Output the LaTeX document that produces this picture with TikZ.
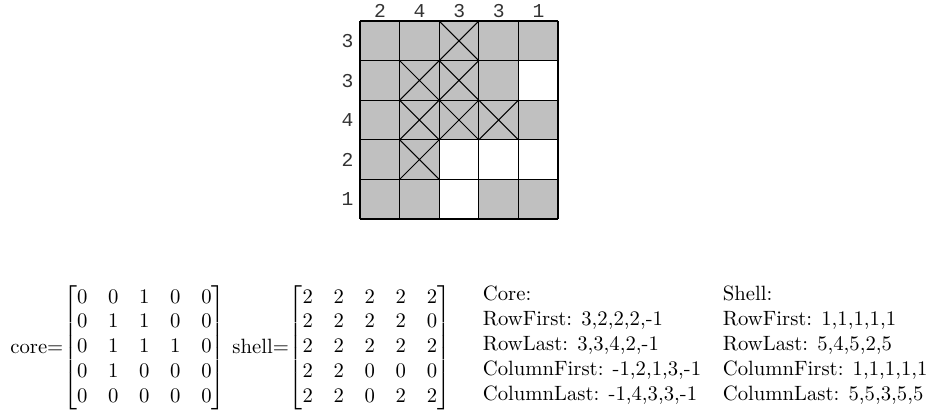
\documentclass[tikz,border=0pt]{standalone}
\usepackage{amsmath}
\usepackage{fontspec}
\newfontfamily\labfont{Liberation Mono}
\definecolor{cellgray}{HTML}{C0C0C0}
\begin{document}
\begin{tikzpicture}[x=0.4833pt,y=-0.4833pt,
  gridline/.style={draw=black,line width=0.55pt},
  xmark/.style={draw=black,line width=0.5pt},
  lab/.style={font=\labfont\fontsize{9.5}{10}\selectfont, text=black!80, inner sep=0pt},
  txt/.style={anchor=base west, inner sep=0pt}]
\useasboundingbox (0,0) rectangle (928,414);
% cells
\fill[cellgray] (360,21) rectangle (558,219);
\foreach \r/\c in {2/5,4/3,4/4,4/5,5/3}
  \fill[white] ({360+(\c-1)*39.6},{21+(\r-1)*39.6}) rectangle ++(39.6,39.6);
% crosses
\foreach \r/\c in {1/3,2/2,2/3,3/2,3/3,3/4,4/2}
  \draw[xmark] ({360+(\c-1)*39.6},{21+(\r-1)*39.6}) -- ++(39.6,39.6)
               ({360+\c*39.6},{21+(\r-1)*39.6}) -- ++(-39.6,39.6);
% grid lines
\foreach \i in {0,...,5} {
  \draw[gridline] ({360+\i*39.6},21) -- ({360+\i*39.6},219);
  \draw[gridline] (360,{21+\i*39.6}) -- (558,{21+\i*39.6});
}
% column labels
\foreach \c/\t in {1/2,2/4,3/3,4/3,5/1}
  \node[lab] (col\c) at ({380+(\c-1)*39.6},11) {\t};
% row labels
\foreach \r/\t in {1/3,2/3,3/4,4/2,5/1}
  \node[lab] (row\r) at (347.5,{41+(\r-1)*39.6}) {\t};
% matrices
\node[txt] (core) at (10,353) {core=$\begin{bmatrix}0&0&1&0&0\\0&1&1&0&0\\0&1&1&1&0\\0&1&0&0&0\\0&0&0&0&0\end{bmatrix}$};
\node[txt] (shell) at (232,353) {shell=$\begin{bmatrix}2&2&2&2&2\\2&2&2&2&0\\2&2&2&2&2\\2&2&0&0&0\\2&2&0&2&2\end{bmatrix}$};
% text columns
\node[txt] (c0) at (482.5,300) {Core:};
\node[txt] (c1) at (482.5,325) {RowFirst: 3,2,2,2,-1};
\node[txt] (c2) at (482.5,350) {RowLast: 3,3,4,2,-1};
\node[txt] (c3) at (482.5,375) {ColumnFirst: -1,2,1,3,-1};
\node[txt] (c4) at (482.5,400) {ColumnLast: -1,4,3,3,-1};
\node[txt] (s0) at (722.5,300) {Shell:};
\node[txt] (s1) at (722.5,325) {RowFirst: 1,1,1,1,1};
\node[txt] (s2) at (722.5,350) {RowLast: 5,4,5,2,5};
\node[txt] (s3) at (722.5,375) {ColumnFirst: 1,1,1,1,1};
\node[txt] (s4) at (722.5,400) {ColumnLast: 5,5,3,5,5};
\end{tikzpicture}
\end{document}
